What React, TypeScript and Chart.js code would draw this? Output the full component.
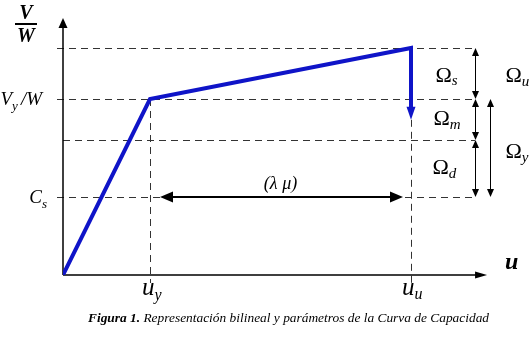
import React, { useEffect, useRef } from "react";
import { Chart, registerables } from "chart.js";

Chart.register(...registerables);

// Bilinear capacity curve (displacement normalised so that u_y = 1, V_y/W = 1)
const displacement = [0, 1, 4, 4]; // origin, u_y, u_u, end of the drop shaft
const capacity = [0, 1, 1.29, 0.95]; // 0, V_y/W, V_u/W, drop
const levelValues = [1.29, 1, 0.767, 0.443]; // V_u/W, V_y/W, intermediate, C_s
const xAxisMax = 4.874;
const yAxisMax = 1.46;
const omegaX1 = 4.736;
const omegaX2 = 4.908;
const captionBold = "Figura 1.";
const captionText = " Representación bilineal y parámetros de la Curva de Capacidad";

const SERIF = '"Liberation Serif", "Times New Roman", serif';
const BLUE = "#0f14c8";

function arrowHead(ctx: CanvasRenderingContext2D, tx: number, ty: number, dx: number, dy: number, len: number, half: number, color: string) {
  const bx = tx - dx * len;
  const by = ty - dy * len;
  const px = -dy;
  const py = dx;
  ctx.save();
  ctx.fillStyle = color;
  ctx.beginPath();
  ctx.moveTo(tx, ty);
  ctx.lineTo(bx + px * half, by + py * half);
  ctx.lineTo(bx - px * half, by - py * half);
  ctx.closePath();
  ctx.fill();
  ctx.restore();
}

function subText(ctx: CanvasRenderingContext2D, x: number, y: number, main: string, mainFont: string, sub: string, subFont: string, subDy: number, after?: string, gap = 0) {
  ctx.font = mainFont;
  ctx.fillText(main, x, y);
  let w = ctx.measureText(main).width;
  ctx.font = subFont;
  ctx.fillText(sub, x + w, y + subDy);
  w += ctx.measureText(sub).width;
  if (after) {
    ctx.font = mainFont;
    ctx.fillText(after, x + w + gap, y);
    w += ctx.measureText(after).width + gap;
  }
  return w;
}

function measureSub(ctx: CanvasRenderingContext2D, main: string, mainFont: string, sub: string, subFont: string, after?: string, gap = 0) {
  ctx.font = mainFont;
  let w = ctx.measureText(main).width + (after ? ctx.measureText(after).width + gap : 0);
  ctx.font = subFont;
  w += ctx.measureText(sub).width;
  return w;
}

const diagramPlugin = {
  id: "diagram",
  beforeDatasetsDraw(chart: any) {
    const ctx: CanvasRenderingContext2D = chart.ctx;
    const xs = chart.scales.x;
    const ys = chart.scales.y;
    const X = (v: number) => xs.getPixelForValue(v);
    const Y = (v: number) => ys.getPixelForValue(v);
    ctx.save();
    // dashed reference lines
    ctx.strokeStyle = "#333";
    ctx.lineWidth = 1;
    ctx.setLineDash([7, 5]);
    levelValues.forEach((v, i) => {
      const y = Math.round(Y(v)) + 0.5;
      ctx.beginPath();
      ctx.moveTo(i === 2 ? X(0) : X(0) - 6, y);
      ctx.lineTo(X(omegaX1), y);
      ctx.stroke();
    });
    const xuy = Math.round(X(displacement[1])) + 0.5;
    ctx.beginPath();
    ctx.moveTo(xuy, Y(capacity[1]));
    ctx.lineTo(xuy, Y(0) + 8);
    ctx.stroke();
    const xuu = Math.round(X(displacement[2])) + 0.5;
    ctx.beginPath();
    ctx.moveTo(xuu, Y(capacity[3]) + 12);
    ctx.lineTo(xuu, Y(0) + 8);
    ctx.stroke();
    ctx.setLineDash([]);
    // axes
    ctx.strokeStyle = "#000";
    ctx.lineWidth = 1.5;
    ctx.beginPath();
    ctx.moveTo(X(0), Y(0));
    ctx.lineTo(X(0), Y(yAxisMax) + 8);
    ctx.moveTo(X(0), Y(0));
    ctx.lineTo(X(xAxisMax) - 10, Y(0));
    ctx.stroke();
    arrowHead(ctx, X(0), Y(yAxisMax), 0, -1, 10, 4.5, "#000");
    arrowHead(ctx, X(xAxisMax), Y(0), 1, 0, 12, 3.5, "#000");
    ctx.restore();
  },
  afterDatasetsDraw(chart: any) {
    const ctx: CanvasRenderingContext2D = chart.ctx;
    const xs = chart.scales.x;
    const ys = chart.scales.y;
    const X = (v: number) => xs.getPixelForValue(v);
    const Y = (v: number) => ys.getPixelForValue(v);
    ctx.save();
    // blue drop arrowhead
    arrowHead(ctx, X(displacement[3]), Y(capacity[3]) + 12, 0, 1, 13, 4.5, BLUE);

    // omega dimension arrows
    ctx.strokeStyle = "#000";
    ctx.lineWidth = 1;
    const ox1 = Math.round(X(omegaX1)) + 0.5;
    const ox2 = Math.round(X(omegaX2)) + 0.5;
    const segs: [number, number, number][] = [
      [ox1, levelValues[0], levelValues[1]],
      [ox1, levelValues[1], levelValues[2]],
      [ox1, levelValues[2], levelValues[3]],
      [ox2, levelValues[1], levelValues[3]],
    ];
    segs.forEach(([x, a, b]) => {
      const y1 = Y(a);
      const y2 = Y(b);
      ctx.beginPath();
      ctx.moveTo(x, y1 + 4);
      ctx.lineTo(x, y2 - 4);
      ctx.stroke();
      arrowHead(ctx, x, y1, 0, -1, 8, 3.5, "#000");
      arrowHead(ctx, x, y2, 0, 1, 8, 3.5, "#000");
    });

    // lambda mu double arrow at C_s
    const yc = Y(levelValues[3]);
    const la = X(displacement[1]) + 10;
    const ra = X(displacement[2]) - 8;
    ctx.lineWidth = 2;
    ctx.beginPath();
    ctx.moveTo(la + 10, yc);
    ctx.lineTo(ra - 10, yc);
    ctx.stroke();
    arrowHead(ctx, la, yc, -1, 0, 13, 5.5, "#000");
    arrowHead(ctx, ra, yc, 1, 0, 13, 5.5, "#000");

    ctx.fillStyle = "#000";
    ctx.textBaseline = "alphabetic";
    ctx.textAlign = "left";

    // (λ μ)
    ctx.font = `italic 18px ${SERIF}`;
    ctx.textAlign = "center";
    ctx.fillText("(λ μ)", (X(displacement[1]) + X(displacement[2])) / 2, yc - 8);
    ctx.textAlign = "left";

    // V/W fraction
    const fx = X(0) - 37;
    ctx.font = `bold italic 20px ${SERIF}`;
    ctx.textAlign = "center";
    ctx.fillText("V", fx, 19);
    ctx.fillText("W", fx, 42);
    ctx.textAlign = "left";
    ctx.lineWidth = 2;
    ctx.beginPath();
    ctx.moveTo(fx - 11, 24);
    ctx.lineTo(fx + 11, 24);
    ctx.stroke();

    // V_y/W
    const mf = `italic 19px ${SERIF}`;
    const sf = `italic 13px ${SERIF}`;
    let w = measureSub(ctx, "V", mf, "y", sf, "/W", 3);
    subText(ctx, X(0) - 21 - w, Y(levelValues[1]) + 6, "V", mf, "y", sf, 5, "/W", 3);
    // C_s
    w = measureSub(ctx, "C", mf, "s", sf);
    subText(ctx, X(0) - 16 - w, Y(levelValues[3]) + 6, "C", mf, "s", sf, 5);

    // u_y, u_u
    const uf = `italic 25px ${SERIF}`;
    const usf = `italic 16px ${SERIF}`;
    subText(ctx, X(displacement[1]) - 8, Y(0) + 20, "u", uf, "y", usf, 5);
    subText(ctx, X(displacement[2]) - 9, Y(0) + 20, "u", uf, "u", usf, 4);

    // axis label u
    ctx.font = `bold italic 24px ${SERIF}`;
    ctx.fillText("u", X(xAxisMax) + 18, Y(0) - 6);

    // Omega labels
    const of = `22px ${SERIF}`;
    const osf = `italic 15px ${SERIF}`;
    const midY = (a: number, b: number) => (Y(a) + Y(b)) / 2;
    subText(ctx, ox1 - 40, midY(levelValues[0], levelValues[1]) + 9, "Ω", of, "s", osf, 3);
    subText(ctx, ox1 - 42, midY(levelValues[1], levelValues[2]) + 5, "Ω", of, "m", osf, 4);
    subText(ctx, ox1 - 43, midY(levelValues[2], levelValues[3]) + 5, "Ω", of, "d", osf, 4);
    subText(ctx, ox2 + 15, midY(levelValues[0], levelValues[1]) + 9, "Ω", of, "u", osf, 4);
    subText(ctx, ox2 + 15, midY(levelValues[1], levelValues[3]) + 10, "Ω", of, "y", osf, 4);

    // caption
    ctx.font = `bold italic 13.4px ${SERIF}`;
    ctx.fillText(captionBold, 88, 322);
    const cw = ctx.measureText(captionBold).width;
    ctx.font = `italic 13.4px ${SERIF}`;
    ctx.fillText(captionText, 88 + cw, 322);
    ctx.restore();
  },
};

export default function App() {
  const ref = useRef<HTMLCanvasElement | null>(null);
  useEffect(() => {
    if (!ref.current) return;
    const chart = new Chart(ref.current, {
      type: "scatter",
      data: {
        datasets: [
          {
            data: displacement.map((u, i) => ({ x: u, y: capacity[i] })),
            showLine: true,
            borderColor: BLUE,
            backgroundColor: BLUE,
            borderWidth: 4,
            pointRadius: 0,
            borderJoinStyle: "miter",
            tension: 0,
          },
        ],
      },
      options: {
        animation: false,
        responsive: true,
        maintainAspectRatio: false,
        devicePixelRatio: 1,
        layout: { padding: { left: 63, right: 34, top: 11, bottom: 68 } },
        plugins: { legend: { display: false }, tooltip: { enabled: false } },
        scales: {
          x: { type: "linear", min: 0, max: 5, display: false },
          y: { type: "linear", min: 0, max: 1.5, display: false },
        },
      },
      plugins: [diagramPlugin],
    } as any);
    return () => chart.destroy();
  }, []);
  return (
    <div style={{ position: "fixed", left: 0, top: 0, width: 532, height: 343, background: "#fff" }}>
      <canvas ref={ref} />
    </div>
  );
}
